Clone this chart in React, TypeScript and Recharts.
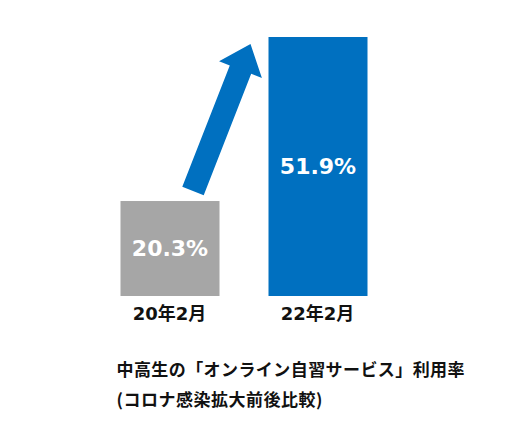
import { BarChart, Bar, XAxis, YAxis, Cell, LabelList } from 'recharts';

const categories = ['20年2月', '22年2月'];
const rates = [20.3, 51.9];
const barColors = ['#A6A6A6', '#0070C0'];
const titleLines = ['中高生の「オンライン自習サービス」利用率', '(コロナ感染拡大前後比較)'];

const data = categories.map((name, i) => ({ name, rate: rates[i] }));

// picture is not drawn from zero, bars start near 2%
const yMin = 2;
const yMax = 51.9;

const W = 508;
const H = 446;
const margin = { top: 37, right: 116.5, left: 95.5, bottom: 120 };
const step = (W - margin.left - margin.right) / categories.length;

const blue = '#0070C0';

// arrow from the gray bar up to the blue bar, drawn with the blue bar
function arrowPoints(x: number, y: number, width: number, height: number) {
    const bottom = y + height;
    const ppu = height / (rates[1] - yMin);
    const grayTop = bottom - (rates[0] - yMin) * ppu;
    const grayCx = x + width / 2 - step;
    const tx = grayCx + 23;
    const ty = grayTop - 10;
    const px = x - 18;
    const py = y + 7;
    const len = Math.hypot(px - tx, py - ty);
    const ux = (px - tx) / len;
    const uy = (py - ty) / len;
    const nx = -uy;
    const ny = ux;
    const w = 11.5;
    const hw = 23;
    const hl = 27.5;
    const bx = px - ux * hl;
    const by = py - uy * hl;
    const pts = [
        [tx - nx * w, ty - ny * w],
        [tx + nx * w, ty + ny * w],
        [bx + nx * w, by + ny * w],
        [bx + nx * hw, by + ny * hw],
        [px, py],
        [bx - nx * hw, by - ny * hw],
        [bx - nx * w, by - ny * w],
    ];
    return pts.map((p) => p.join(',')).join(' ');
}

function BarShape(props: any) {
    const { x, y, width, height, index } = props;
    return (
        <g>
            <rect x={x} y={y} width={width} height={height} fill={barColors[index]} />
            {index === 1 && <polygon points={arrowPoints(x, y, width, height)} fill={blue} />}
        </g>
    );
}

function CategoryTick(props: any) {
    const { x, y, payload } = props;
    return (
        <text
            x={x}
            y={y + 9}
            textAnchor="middle"
            dominantBaseline="central"
            fontFamily="'DejaVu Sans', 'Noto Sans CJK JP'"
            fontWeight="bold"
            fontSize={18}
            fill="#111"
        >
            {payload.value}
        </text>
    );
}

export default function App() {
    return (
        <div style={{ position: 'absolute', left: 0, top: 0, width: W, height: H, background: '#fff' }}>
            <BarChart width={W} height={H} data={data} margin={margin}>
                <XAxis
                    dataKey="name"
                    axisLine={false}
                    tickLine={false}
                    height={30}
                    tick={<CategoryTick />}
                    interval={0}
                />
                <YAxis hide domain={[yMin, yMax]} allowDataOverflow />
                <Bar dataKey="rate" barSize={99} shape={<BarShape />} isAnimationActive={false}>
                    {data.map((d, i) => (
                        <Cell key={d.name} fill={barColors[i]} />
                    ))}
                    <LabelList
                        dataKey="rate"
                        position="center"
                        formatter={(v: any) => `${v}%`}
                        fill="#fff"
                        fontSize={22}
                        fontWeight="bold"
                        fontFamily="'DejaVu Sans'"
                    />
                </Bar>
            </BarChart>
            <svg
                width={W}
                height={H}
                style={{ position: 'absolute', left: 0, top: 0, pointerEvents: 'none' }}
            >
                <text
                    x={116.5}
                    y={368}
                    dominantBaseline="central"
                    fontFamily="'Noto Sans CJK JP'"
                    fontWeight="bold"
                    fontSize={17}
                    fill="#111"
                    textLength={348}
                    lengthAdjust="spacing"
                >
                    {titleLines[0]}
                </text>
                <text
                    x={116.5}
                    y={398}
                    dominantBaseline="central"
                    fontFamily="'Noto Sans CJK JP'"
                    fontWeight="bold"
                    fontSize={17}
                    fill="#111"
                    textLength={206}
                    lengthAdjust="spacing"
                >
                    {titleLines[1]}
                </text>
            </svg>
        </div>
    );
}
